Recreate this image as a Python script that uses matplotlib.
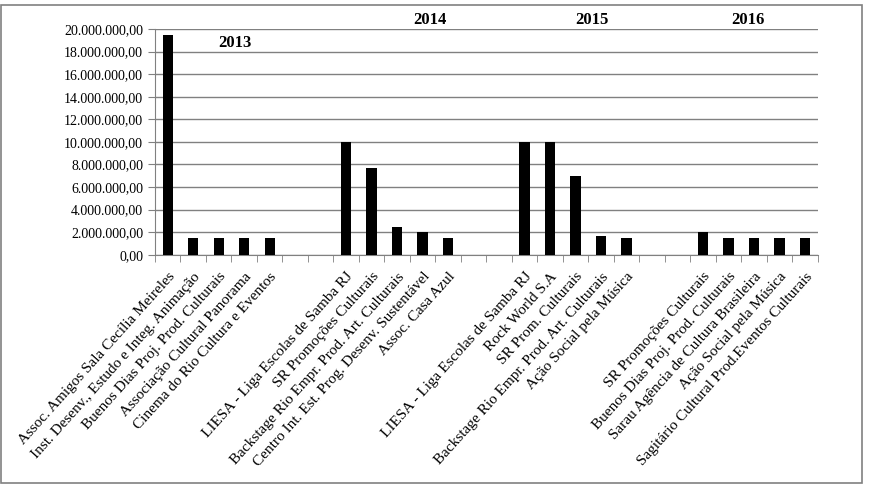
import numpy as np
import matplotlib.pyplot as plt
from matplotlib.patches import Rectangle
from matplotlib.ticker import FuncFormatter

plt.rcParams['font.family'] = ['Liberation Serif', 'DejaVu Serif']

# data (two empty slots between the years)
labels = [
    'Assoc. Amigos Sala Cecília Meireles',
    'Inst. Desenv., Estudo e Integ. Animação',
    'Buenos Dias Proj. Prod. Culturais',
    'Associação Cultural Panorama',
    'Cinema do Rio Cultura e Eventos',
    '', '',
    'LIESA - Liga Escolas de Samba RJ',
    'SR Promoções Culturais',
    'Backstage Rio Empr. Prod. Art. Culturais',
    'Centro Int. Est. Prog. Desenv. Sustentável',
    'Assoc. Casa Azul',
    '', '',
    'LIESA - Liga Escolas de Samba RJ',
    'Rock World S.A',
    'SR Prom. Culturais',
    'Backstage Rio Empr. Prod. Art. Culturais',
    'Ação Social pela Música',
    '', '',
    'SR Promoções Culturais',
    'Buenos Dias Proj. Prod. Culturais',
    'Sarau Agência de Cultura Brasileira',
    'Ação Social pela Música',
    'Sagitário Cultural Prod.Eventos Culturais',
]
values = [
    19500000, 1500000, 1500000, 1500000, 1500000,
    0, 0,
    10000000, 7700000, 2500000, 2000000, 1500000,
    0, 0,
    10000000, 10000000, 7000000, 1700000, 1500000,
    0, 0,
    2000000, 1500000, 1500000, 1500000, 1500000,
]
years = ['2013', '2014', '2015', '2016']

fig = plt.figure(figsize=(8.7, 4.91), dpi=100)
ax = fig.add_axes([0.178, 0.481, 0.762, 0.460])

x = np.arange(len(labels))
ax.bar(x, values, width=0.4, color='black', zorder=3)

ax.set_xlim(-0.5, len(labels) - 0.5)
ax.set_ylim(0, 20000000)
ax.set_yticks(np.arange(0, 20000001, 2000000))

def fmt(v, pos):
    s = '{:,.2f}'.format(v)
    return s.replace(',', 'X').replace('.', ',').replace('X', '.')

ax.yaxis.set_major_formatter(FuncFormatter(fmt))
ax.grid(axis='y', color='#808080', linewidth=1, zorder=0)

ax.set_xticks(x)
ax.set_xticklabels(labels, rotation=48, ha='right', va='top',
                   rotation_mode='anchor', fontsize=11)
ax.tick_params(axis='x', which='major', length=0, pad=11)
ax.set_xticks(np.arange(-0.5, len(labels)), minor=True)
ax.tick_params(axis='x', which='minor', length=5, color='#808080', direction='out')
ax.tick_params(axis='y', labelsize=10, length=5, color='#808080')

for s in ['top', 'right']:
    ax.spines[s].set_visible(False)
for s in ['left', 'bottom']:
    ax.spines[s].set_color('#808080')

# year labels
ax.text(2.64, 18760000, years[0], ha='center', va='center', fontsize=12, fontweight='bold')
ax.text(10.28, 20800000, years[1], ha='center', va='center', fontsize=12, fontweight='bold')
ax.text(16.64, 20800000, years[2], ha='center', va='center', fontsize=12, fontweight='bold')
ax.text(22.75, 20800000, years[3], ha='center', va='center', fontsize=12, fontweight='bold')

fig.patches.append(Rectangle((0.001, 0.016), 0.990, 0.974, transform=fig.transFigure,
                             fill=False, edgecolor='#808080', linewidth=1.2))

fig.savefig('out.png', dpi=100)
